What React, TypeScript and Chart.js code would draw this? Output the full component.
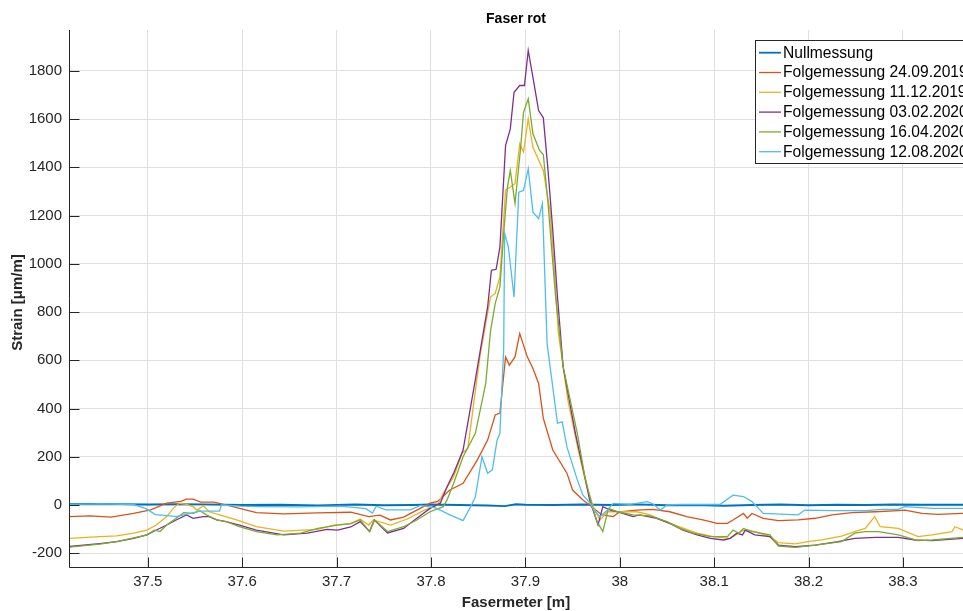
import { useEffect, useRef } from "react";
import { Chart, registerables } from "chart.js";

Chart.register(...registerables);

const FONT = '"Liberation Sans", Arial, Helvetica, sans-serif';

// ---------- texts ----------
const chartTitle = "Faser rot";
const xAxisTitle = "Fasermeter [m]";
const yAxisTitle = "Strain [\u03bcm/m]";
const seriesNames = [
  "Nullmessung",
  "Folgemessung 24.09.2019",
  "Folgemessung 11.12.2019",
  "Folgemessung 03.02.2020",
  "Folgemessung 16.04.2020",
  "Folgemessung 12.08.2020",
];

// ---------- ticks ----------
const xTickValues = [37.5, 37.6, 37.7, 37.8, 37.9, 38.0, 38.1, 38.2, 38.3];
const xTickLabels = ["37.5", "37.6", "37.7", "37.8", "37.9", "38", "38.1", "38.2", "38.3"];
const yTickValues = [-200, 0, 200, 400, 600, 800, 1000, 1200, 1400, 1600, 1800];
const yTickLabels = ["-200", "0", "200", "400", "600", "800", "1000", "1200", "1400", "1600", "1800"];
const xLimits = [37.4165, 38.3636];
const yLimits = [-257, 1969];

// ---------- data ----------
const nullX = [37.416, 37.44, 37.47, 37.5, 37.53, 37.56, 37.6, 37.64, 37.68, 37.7, 37.72, 37.75, 37.78, 37.8, 37.83, 37.86, 37.878, 37.89, 37.9, 37.93, 37.96, 37.99, 38.02, 38.05, 38.08, 38.11, 38.14, 38.17, 38.2, 38.23, 38.26, 38.29, 38.32, 38.364];
const nullY = [3, 5, 4, 2, 4, 3, 0, 1, -2, 0, 2, -1, 0, 2, 0, -2, -5, 3, 1, 0, 2, 0, 3, -1, 0, -3, 0, 2, -1, 1, 0, 2, 1, 1];

const m1X = [37.417, 37.439, 37.461, 37.485, 37.503, 37.52, 37.535, 37.541, 37.548, 37.556, 37.57, 37.588, 37.615, 37.644, 37.68, 37.715, 37.734, 37.746, 37.757, 37.771, 37.785, 37.799, 37.807, 37.82, 37.834, 37.849, 37.86, 37.868, 37.873, 37.879, 37.883, 37.889, 37.894, 37.902, 37.908, 37.914, 37.919, 37.929, 37.944, 37.95, 37.961, 37.972, 37.981, 37.993, 38.0, 38.018, 38.035, 38.053, 38.071, 38.088, 38.103, 38.114, 38.12, 38.131, 38.135, 38.14, 38.152, 38.168, 38.189, 38.207, 38.225, 38.246, 38.271, 38.295, 38.302, 38.32, 38.337, 38.364];
const m1Y = [-48, -45, -50, -35, -20, 8, 15, 24, 24, 12, 12, -5, -32, -37, -33, -30, -48, -42, -62, -50, -21, 8, 15, 62, 90, 186, 269, 373, 381, 614, 580, 614, 711, 614, 566, 504, 359, 228, 132, 62, 21, -12, -41, -48, -28, -21, -18, -28, -48, -62, -76, -76, -62, -35, -55, -35, -55, -65, -62, -55, -41, -32, -28, -23, -21, -35, -39, -35];

const m2X = [37.417, 37.449, 37.467, 37.485, 37.499, 37.509, 37.52, 37.527, 37.533, 37.541, 37.548, 37.552, 37.559, 37.565, 37.576, 37.594, 37.615, 37.644, 37.68, 37.697, 37.715, 37.725, 37.734, 37.739, 37.757, 37.775, 37.792, 37.807, 37.813, 37.824, 37.833, 37.839, 37.852, 37.863, 37.868, 37.873, 37.879, 37.884, 37.889, 37.894, 37.898, 37.903, 37.908, 37.919, 37.926, 37.929, 37.935, 37.945, 37.956, 37.965, 37.972, 37.979, 37.987, 38.0, 38.018, 38.032, 38.053, 38.082, 38.099, 38.117, 38.131, 38.143, 38.159, 38.168, 38.186, 38.199, 38.214, 38.235, 38.249, 38.26, 38.27, 38.276, 38.295, 38.316, 38.331, 38.352, 38.355, 38.364];
const m2Y = [-138, -131, -128, -117, -104, -83, -48, -14, 7, 3, -7, -21, -3, -28, -41, -62, -90, -108, -101, -83, -77, -58, -83, -62, -83, -58, -23, 0, 48, 117, 214, 235, 620, 862, 877, 945, 1304, 1318, 1332, 1497, 1463, 1601, 1483, 1387, 1221, 1069, 711, 435, 228, 76, -7, -62, -28, -28, -28, -41, -76, -117, -131, -138, -104, -110, -131, -156, -161, -152, -145, -129, -110, -97, -48, -90, -97, -131, -124, -110, -90, -104];

const m3X = [37.417, 37.449, 37.467, 37.485, 37.499, 37.506, 37.52, 37.53, 37.541, 37.548, 37.559, 37.565, 37.573, 37.583, 37.597, 37.615, 37.644, 37.669, 37.69, 37.701, 37.715, 37.725, 37.735, 37.74, 37.754, 37.771, 37.785, 37.799, 37.81, 37.817, 37.824, 37.834, 37.847, 37.86, 37.864, 37.869, 37.873, 37.879, 37.884, 37.888, 37.894, 37.899, 37.903, 37.908, 37.914, 37.919, 37.924, 37.929, 37.934, 37.94, 37.953, 37.963, 37.968, 37.974, 37.977, 37.982, 37.99, 37.998, 38.014, 38.021, 38.039, 38.053, 38.067, 38.082, 38.096, 38.11, 38.117, 38.124, 38.13, 38.133, 38.143, 38.159, 38.168, 38.186, 38.207, 38.231, 38.249, 38.271, 38.295, 38.313, 38.331, 38.364];
const m3Y = [-172, -160, -152, -138, -124, -110, -83, -62, -41, -55, -48, -48, -62, -69, -83, -104, -124, -117, -101, -104, -91, -69, -110, -62, -116, -97, -55, -14, 8, 76, 132, 228, 520, 821, 973, 977, 1069, 1490, 1559, 1711, 1739, 1739, 1884, 1773, 1635, 1605, 1387, 1139, 862, 573, 297, 117, 21, -48, -83, -7, -21, -28, -48, -41, -55, -76, -104, -124, -138, -145, -138, -117, -124, -104, -124, -131, -166, -173, -166, -152, -138, -134, -134, -145, -148, -138];

const m4X = [37.417, 37.449, 37.467, 37.491, 37.499, 37.507, 37.513, 37.52, 37.53, 37.538, 37.548, 37.555, 37.562, 37.573, 37.583, 37.597, 37.615, 37.637, 37.662, 37.68, 37.701, 37.715, 37.725, 37.735, 37.74, 37.754, 37.771, 37.785, 37.799, 37.813, 37.817, 37.824, 37.834, 37.847, 37.858, 37.863, 37.868, 37.873, 37.877, 37.881, 37.884, 37.889, 37.895, 37.898, 37.903, 37.908, 37.915, 37.919, 37.924, 37.932, 37.94, 37.955, 37.963, 37.971, 37.976, 37.982, 37.988, 37.998, 38.014, 38.032, 38.05, 38.064, 38.078, 38.096, 38.114, 38.12, 38.126, 38.131, 38.141, 38.159, 38.168, 38.186, 38.207, 38.235, 38.249, 38.26, 38.274, 38.295, 38.316, 38.331, 38.364];
const m4Y = [-175, -162, -152, -131, -124, -104, -110, -83, -55, -32, -35, -23, -41, -62, -69, -90, -110, -124, -117, -97, -83, -77, -62, -110, -62, -110, -90, -62, -28, -7, 21, 90, 200, 297, 504, 720, 835, 904, 1126, 1318, 1387, 1250, 1483, 1628, 1684, 1539, 1470, 1453, 1249, 862, 573, 297, 117, -7, -69, -110, -14, -28, -41, -45, -69, -97, -117, -131, -131, -104, -117, -97, -110, -124, -170, -176, -166, -152, -117, -110, -110, -124, -148, -145, -134];

const m5X = [37.417, 37.45, 37.485, 37.498, 37.508, 37.524, 37.53, 37.545, 37.555, 37.576, 37.578, 37.598, 37.619, 37.662, 37.704, 37.731, 37.738, 37.742, 37.752, 37.778, 37.789, 37.805, 37.82, 37.834, 37.842, 37.847, 37.854, 37.86, 37.865, 37.87, 37.873, 37.874, 37.877, 37.878, 37.882, 37.888, 37.893, 37.898, 37.903, 37.908, 37.914, 37.918, 37.923, 37.934, 37.939, 37.944, 37.955, 37.961, 37.968, 37.974, 37.979, 37.987, 37.993, 38.011, 38.029, 38.035, 38.043, 38.05, 38.064, 38.106, 38.12, 38.131, 38.14, 38.152, 38.189, 38.196, 38.225, 38.26, 38.278, 38.295, 38.302, 38.331, 38.364];
const m5Y = [3, 5, 2, -15, -40, -45, -48, -35, -25, -25, 0, -5, -7, -8, -5, -15, -33, -5, -20, -20, -2, -12, -41, -65, -7, 34, 200, 132, 146, 269, 297, 393, 642, 1126, 1069, 862, 1297, 1304, 1394, 1214, 1187, 1249, 669, 339, 345, 241, 104, 41, 10, -28, -48, -21, 7, 3, 14, 5, -21, 0, 2, 2, 41, 35, 14, -35, -41, -21, -23, -23, -18, -18, -7, -14, -14];

const seriesX = [nullX, m1X, m2X, m3X, m4X, m5X];
const seriesY = [nullY, m1Y, m2Y, m3Y, m4Y, m5Y];

// ---------- styles ----------
const seriesColors = ["#0072BD", "#D95319", "#EDB120", "#7E2F8E", "#77AC30", "#4DBEEE"];
const seriesWidths = [1.8, 1.3, 1.3, 1.3, 1.3, 1.3];
const AXIS_COLOR = "#262626";
const GRID_COLOR = "#dfdfdf";

const decorPlugin = {
  id: "decor",
  afterDraw(chart: any) {
    const ctx: CanvasRenderingContext2D = chart.ctx;
    const area = chart.chartArea;
    const xs = chart.scales.x;
    const ys = chart.scales.y;
    ctx.save();
    // axis lines
    ctx.strokeStyle = AXIS_COLOR;
    ctx.lineWidth = 1;
    ctx.beginPath();
    const lx = Math.round(area.left) + 0.5;
    const by = Math.round(area.bottom) + 0.5;
    ctx.moveTo(lx, area.top);
    ctx.lineTo(lx, by);
    ctx.lineTo(area.right, by);
    ctx.stroke();
    // inward tick marks
    ctx.beginPath();
    xTickValues.forEach((v) => {
      const px = Math.round(xs.getPixelForValue(v)) + 0.5;
      ctx.moveTo(px, by);
      ctx.lineTo(px, by - 10);
    });
    yTickValues.forEach((v) => {
      const py = Math.round(ys.getPixelForValue(v)) + 0.5;
      ctx.moveTo(lx, py);
      ctx.lineTo(lx + 10, py);
    });
    ctx.stroke();

    // title
    const cx = (area.left + area.right) / 2;
    ctx.fillStyle = "#000";
    ctx.textAlign = "center";
    ctx.textBaseline = "middle";
    ctx.font = `bold 14px ${FONT}`;
    ctx.fillText(chartTitle, cx, 19);
    // axis titles
    ctx.fillStyle = AXIS_COLOR;
    ctx.font = `bold 15px ${FONT}`;
    ctx.fillText(xAxisTitle, cx, 603);
    ctx.save();
    ctx.translate(18, (area.top + area.bottom) / 2 + 4);
    ctx.rotate(-Math.PI / 2);
    ctx.fillText(yAxisTitle, 0, 0);
    ctx.restore();

    // legend
    const bx = 755.5, byTop = 40.5, bw = 260, bh = 123;
    ctx.fillStyle = "#fff";
    ctx.fillRect(bx, byTop, bw, bh);
    ctx.strokeStyle = AXIS_COLOR;
    ctx.lineWidth = 1;
    ctx.strokeRect(bx, byTop, bw, bh);
    ctx.font = `15.6px ${FONT}`;
    ctx.textAlign = "left";
    ctx.textBaseline = "middle";
    seriesNames.forEach((name, i) => {
      const ry = 52.7 + i * 19.8;
      ctx.strokeStyle = seriesColors[i];
      ctx.lineWidth = seriesWidths[i];
      ctx.beginPath();
      ctx.moveTo(759, ry);
      ctx.lineTo(781, ry);
      ctx.stroke();
      ctx.fillStyle = "#000";
      ctx.fillText(name, 783, ry + 0.5);
    });
    ctx.restore();
  },
};

export default function App() {
  const ref = useRef<HTMLCanvasElement | null>(null);

  useEffect(() => {
    if (!ref.current) return;
    const datasets = seriesNames.map((name, i) => ({
      label: name,
      data: seriesX[i].map((x, j) => ({ x, y: seriesY[i][j] })),
      borderColor: seriesColors[i],
      backgroundColor: seriesColors[i],
      borderWidth: seriesWidths[i],
      pointRadius: 0,
      tension: 0,
      fill: false,
      order: seriesNames.length - 1 - i,
    }));
    const chart = new Chart(ref.current, {
      type: "line",
      data: { datasets },
      plugins: [decorPlugin],
      options: {
        animation: false,
        responsive: false,
        layout: { padding: { top: 30, left: 0, right: 0, bottom: 0 } },
        plugins: {
          legend: { display: false },
          title: { display: false },
          tooltip: { enabled: false },
        },
        scales: {
          x: {
            type: "linear",
            min: xLimits[0],
            max: xLimits[1],
            afterBuildTicks: (s: any) => {
              s.ticks = xTickValues.map((v) => ({ value: v }));
            },
            afterFit: (s: any) => {
              s.height = 44;
              s.paddingLeft = 0;
              s.paddingRight = 0;
            },
            ticks: {
              autoSkip: false,
              maxRotation: 0,
              padding: 6,
              color: AXIS_COLOR,
              font: { family: FONT, size: 15 },
              callback: (_v: any, i: number) => xTickLabels[i],
            },
            grid: { color: GRID_COLOR, lineWidth: 1, drawTicks: false },
            border: { display: false },
          },
          y: {
            type: "linear",
            min: yLimits[0],
            max: yLimits[1],
            afterBuildTicks: (s: any) => {
              s.ticks = yTickValues.map((v) => ({ value: v }));
            },
            afterFit: (s: any) => {
              s.width = 69;
              s.paddingTop = 0;
              s.paddingBottom = 0;
            },
            ticks: {
              autoSkip: false,
              padding: 7,
              color: AXIS_COLOR,
              font: { family: FONT, size: 15 },
              callback: (_v: any, i: number) => yTickLabels[i],
            },
            grid: { color: GRID_COLOR, lineWidth: 1, drawTicks: false },
            border: { display: false },
          },
        },
      },
    } as any);
    return () => chart.destroy();
  }, []);

  return (
    <div style={{ position: "fixed", left: 0, top: 0, width: 963, height: 611, background: "#fff", overflow: "hidden" }}>
      <canvas ref={ref} width={963} height={611} style={{ display: "block", width: 963, height: 611 }} />
    </div>
  );
}
